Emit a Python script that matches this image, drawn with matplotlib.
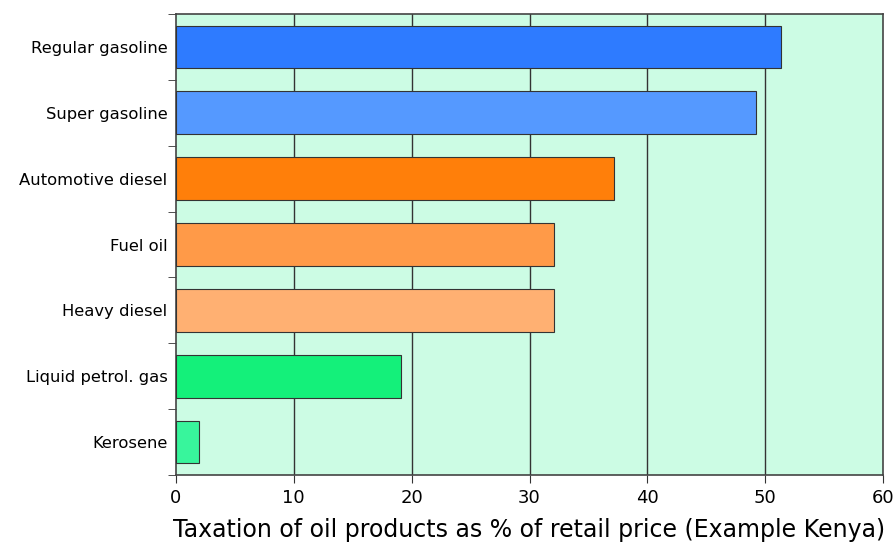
import matplotlib
matplotlib.use("Agg")
import matplotlib.pyplot as plt
import numpy as np

products = ["Regular gasoline", "Super gasoline", "Automotive diesel", "Fuel oil",
            "Heavy diesel", "Liquid petrol. gas", "Kerosene"]
tax_pct = [51.3, 49.2, 37.2, 32.1, 32.1, 19.1, 2.0]
bar_colors = ["#2e7bff", "#5599ff", "#ff7f0a", "#ff9a48", "#ffb072", "#14f07a", "#38f59c"]
x_ticks = [0, 10, 20, 30, 40, 50, 60]

plt.rcParams["font.family"] = ["DejaVu Sans"]

fig = plt.figure(figsize=(8.93, 5.44), dpi=100)
ax = fig.add_axes([0.197, 0.127, 0.792, 0.847])
ax.set_facecolor("#ccfce4")

y = np.arange(len(products))
ax.barh(y, tax_pct, height=0.65, color=bar_colors, edgecolor="#333333", linewidth=0.8, zorder=3)

ax.set_xlim(0, 60)
ax.set_ylim(len(products) - 0.5, -0.5)
ax.set_xticks(x_ticks)
ax.set_xticklabels([str(v) for v in x_ticks], fontsize=13)
for v in x_ticks[1:-1]:
    ax.axvline(v, color="#333333", linewidth=1.0, zorder=1)

ax.set_yticks(y)
ax.set_yticklabels(products, fontsize=11.8)
ax.tick_params(axis="y", length=0, pad=6)
ax.set_yticks(np.arange(len(products) + 1) - 0.5, minor=True)
ax.tick_params(axis="y", which="minor", length=6, direction="out", color="#333333")
ax.tick_params(axis="x", length=6, direction="out", color="#333333", pad=4)

for s in ax.spines.values():
    s.set_color("#444444")
    s.set_linewidth(1.2)

ax.set_xlabel("Taxation of oil products as % of retail price (Example Kenya)", fontsize=17, labelpad=8)

fig.savefig("out.png", dpi=100)
